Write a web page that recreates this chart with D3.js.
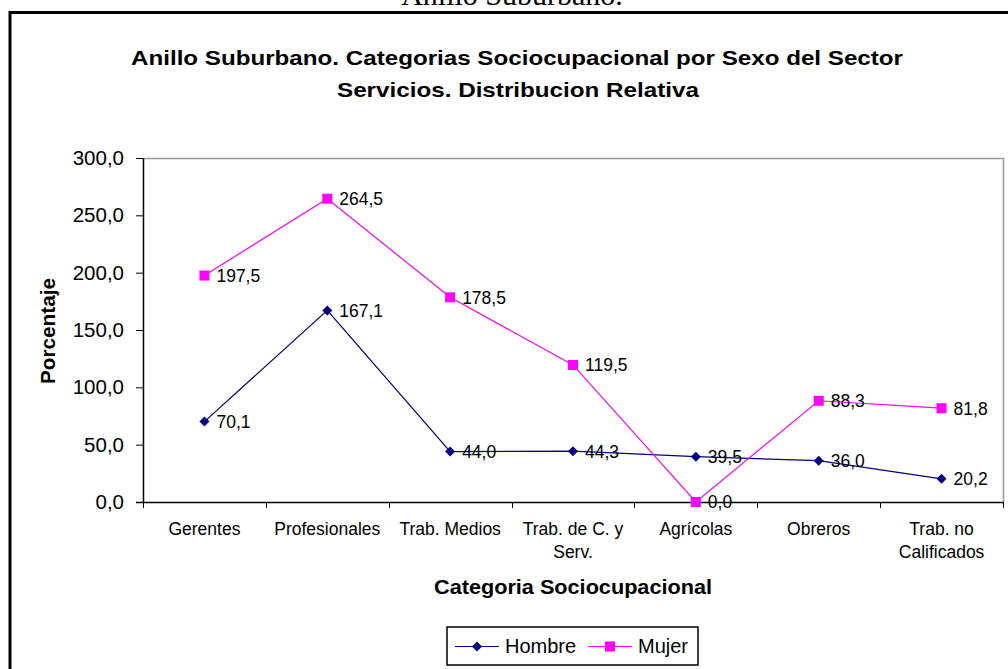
<!DOCTYPE html>
<html>
<head>
<meta charset="utf-8">
<script src="https://cdn.jsdelivr.net/npm/d3@7"></script>
<style>
  html, body { margin: 0; padding: 0; background: #fff; overflow: hidden; }
  svg text { font-family: Arial, "Liberation Sans", sans-serif; fill: #000; }
</style>
</head>
<body>
<div id="chart"></div>
<script>
var categorias = ['Gerentes', 'Profesionales', 'Trab. Medios', 'Trab. de C. y Serv.', 'Agrícolas', 'Obreros', 'Trab. no Calificados'];
var hombre = [70.1, 167.1, 44.0, 44.3, 39.5, 36.0, 20.2];
var mujer = [197.5, 264.5, 178.5, 119.5, 0.0, 88.3, 81.8];
var yTicks = [0, 50, 100, 150, 200, 250, 300];

var W = 1008, H = 669;
var plot = { left: 143, right: 1003, top: 158, bottom: 502 };

var fmt = d3.formatLocale({ decimal: ',', thousands: '.', grouping: [3], currency: ['', ''] }).format('.1f');

var svg = d3.select('#chart')
  .append('svg')
    .attr('width', W)
    .attr('height', H);

// page heading, cut off at the top as in the scanned page
svg.append('text')
  .attr('x', 512).attr('y', 5)
  .attr('text-anchor', 'middle')
  .style('font-family', '"Liberation Serif", "Times New Roman", serif')
  .style('font-size', '30px')
  .text('Anillo Suburbano.');

// chart area border
svg.append('rect')
  .attr('x', 10).attr('y', 12.5)
  .attr('width', 1020).attr('height', 700)
  .attr('fill', 'none')
  .attr('stroke', '#000')
  .attr('stroke-width', 3);

// title (the original font runs wider than Arial, so stretch to its width)
var title = svg.append('text')
  .attr('text-anchor', 'middle')
  .style('font-weight', 'bold')
  .style('font-size', '21px');
title.append('tspan').attr('x', 517).attr('y', 65)
  .attr('textLength', 772).attr('lengthAdjust', 'spacingAndGlyphs')
  .text('Anillo Suburbano. Categorias Sociocupacional por Sexo del Sector');
title.append('tspan').attr('x', 518).attr('y', 97)
  .attr('textLength', 362).attr('lengthAdjust', 'spacingAndGlyphs')
  .text('Servicios. Distribucion Relativa');

var x = d3.scaleBand()
  .domain(categorias)
  .range([plot.left, plot.right]);

var y = d3.scaleLinear()
  .domain([0, 300])
  .range([plot.bottom, plot.top]);

var cx = d => x(d) + x.bandwidth() / 2;

// plot area border (grey top/right)
svg.append('path')
  .attr('d', `M${plot.left},${plot.top + 0.5}H${plot.right + 0.5}V${plot.bottom}`)
  .attr('fill', 'none')
  .attr('stroke', '#999')
  .attr('stroke-width', 1.5);

// y axis
var yAxis = svg.append('g')
  .attr('transform', `translate(${plot.left}, 0)`)
  .call(d3.axisLeft(y).tickValues(yTicks).tickFormat(fmt).tickSize(7).tickSizeOuter(0));
yAxis.select('.domain').attr('stroke', '#000').attr('stroke-width', 1.5);
yAxis.selectAll('.tick line').attr('stroke', '#000');
yAxis.selectAll('.tick text')
  .attr('x', -19)
  .style('font-size', '20.5px')
  .style('font-family', 'Arial, "Liberation Sans", sans-serif')
  .attr('fill', '#000');

// x axis
var xg = svg.append('g');
xg.append('line')
  .attr('x1', plot.left - 7).attr('x2', plot.right + 1)
  .attr('y1', plot.bottom + 0.5).attr('y2', plot.bottom + 0.5)
  .attr('stroke', '#000').attr('stroke-width', 1.5);
var bounds = categorias.map(d => x(d)).concat([x.range()[1]]);
xg.selectAll('.xtick')
  .data(bounds)
  .enter().append('line')
    .attr('class', 'xtick')
    .attr('x1', d => Math.round(d) + 0.5).attr('x2', d => Math.round(d) + 0.5)
    .attr('y1', plot.bottom).attr('y2', plot.bottom + 6)
    .attr('stroke', '#000');

var catLabels = xg.selectAll('.cat')
  .data(categorias)
  .enter().append('text')
    .attr('class', 'cat')
    .attr('text-anchor', 'middle')
    .style('font-size', '17.5px')
    .attr('y', 535)
    .text(d => d);

// wrap long category names into the band
catLabels.each(function (d) {
  var el = d3.select(this);
  var words = d.split(' ');
  var lines = [], line = [];
  el.text(null);
  var probe = el.append('tspan');
  words.forEach(function (w) {
    line.push(w);
    probe.text(line.join(' '));
    if (probe.node().getComputedTextLength() > x.bandwidth() - 6 && line.length > 1) {
      line.pop();
      lines.push(line.join(' '));
      line = [w];
    }
  });
  lines.push(line.join(' '));
  probe.remove();
  lines.forEach(function (l, i) {
    el.append('tspan').attr('x', cx(d)).attr('y', 535 + i * 23).text(l);
  });
});

// axis titles
svg.append('text')
  .attr('transform', 'translate(55, 331) rotate(-90)')
  .attr('text-anchor', 'middle')
  .attr('textLength', 106).attr('lengthAdjust', 'spacingAndGlyphs')
  .style('font-weight', 'bold')
  .style('font-size', '20px')
  .text('Porcentaje');

svg.append('text')
  .attr('x', (plot.left + plot.right) / 2).attr('y', 594)
  .attr('text-anchor', 'middle')
  .attr('textLength', 278).attr('lengthAdjust', 'spacingAndGlyphs')
  .style('font-weight', 'bold')
  .style('font-size', '20px')
  .text('Categoria Sociocupacional');

// markers
var diamond = {
  draw: function (ctx, size) {
    var r = Math.sqrt(size / 2);
    ctx.moveTo(0, -r); ctx.lineTo(r, 0); ctx.lineTo(0, r); ctx.lineTo(-r, 0); ctx.closePath();
  }
};
var series = [
  { name: 'Hombre', values: hombre, color: '#000080', symbol: d3.symbol().type(diamond).size(50) },
  { name: 'Mujer', values: mujer, color: '#FF00FF', symbol: d3.symbol().type(d3.symbolSquare).size(100) }
];

var line = d3.line()
  .x((d, i) => cx(categorias[i]))
  .y(d => y(d));

series.forEach(function (s) {
  svg.append('path')
    .attr('d', line(s.values))
    .attr('fill', 'none')
    .attr('stroke', s.color)
    .attr('stroke-width', 1.2);
});

series.forEach(function (s) {
  var g = svg.append('g');
  g.selectAll('path')
    .data(s.values)
    .enter().append('path')
      .attr('d', s.symbol)
      .attr('transform', (d, i) => `translate(${cx(categorias[i])}, ${y(d)})`)
      .attr('fill', s.color);
  g.selectAll('text')
    .data(s.values)
    .enter().append('text')
      .attr('x', (d, i) => cx(categorias[i]) + 12)
      .attr('y', d => y(d))
      .attr('dy', '0.36em')
      .style('font-size', '17.5px')
      .text(d => fmt(d));
});

// legend
var leg = svg.append('g');
leg.append('rect')
  .attr('x', 447).attr('y', 627)
  .attr('width', 251).attr('height', 38)
  .attr('fill', '#fff')
  .attr('stroke', '#000')
  .attr('stroke-width', 1.5);
var legX = [455, 588];
series.forEach(function (s, i) {
  var lx = legX[i];
  leg.append('line')
    .attr('x1', lx).attr('x2', lx + 44)
    .attr('y1', 646.5).attr('y2', 646.5)
    .attr('stroke', s.color).attr('stroke-width', 1.2);
  leg.append('path')
    .attr('d', s.symbol)
    .attr('transform', `translate(${lx + 22}, 646.5)`)
    .attr('fill', s.color);
  leg.append('text')
    .attr('x', lx + 50).attr('y', 653)
    .style('font-size', '20px')
    .text(s.name);
});
</script>
</body>
</html>
